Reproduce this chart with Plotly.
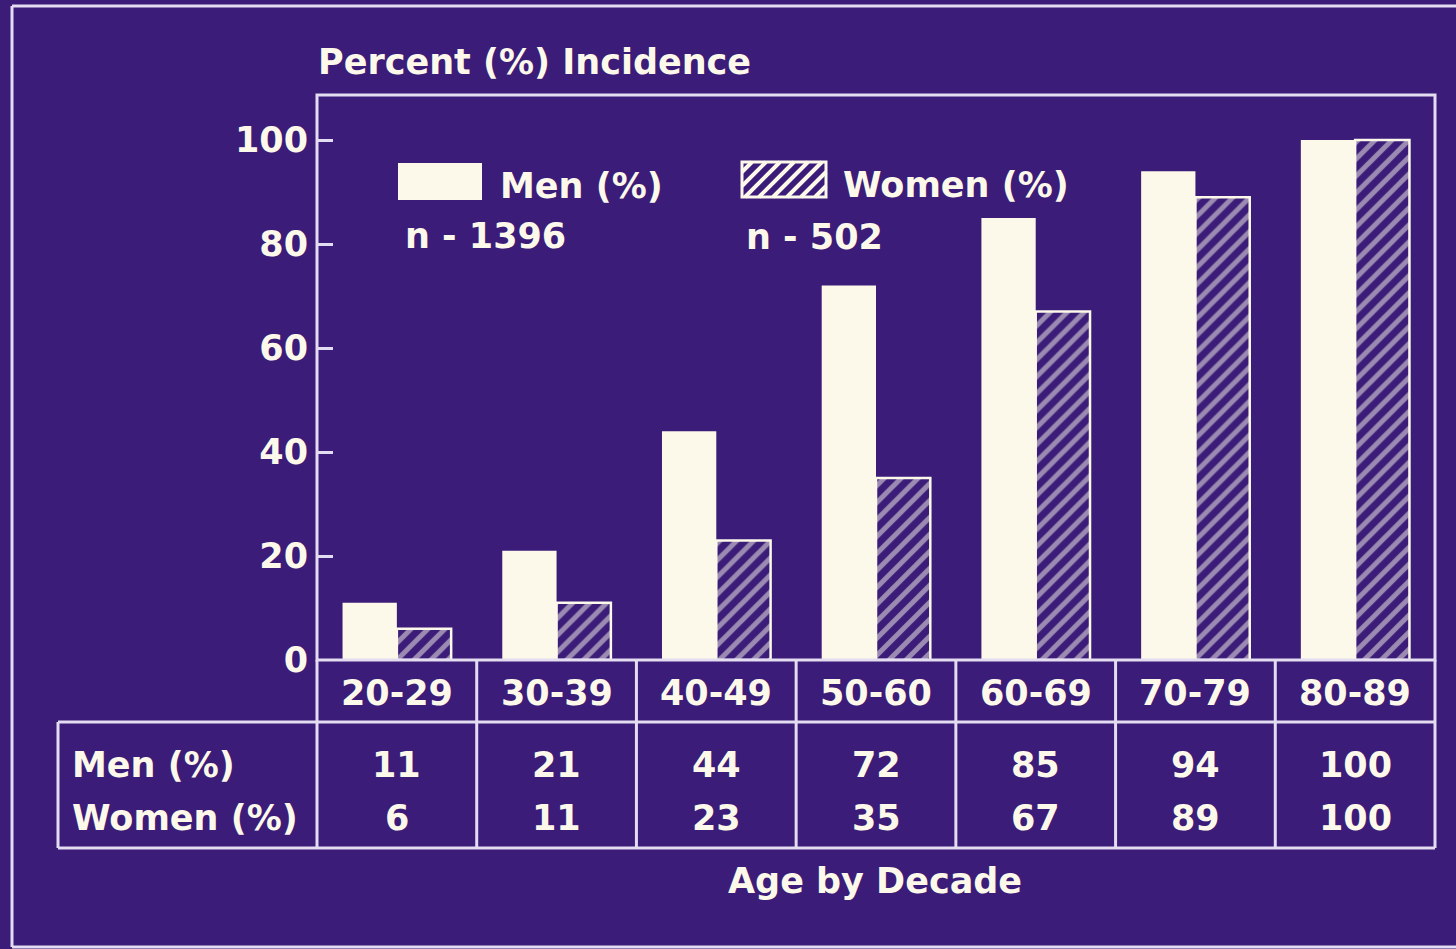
import plotly.graph_objects as go

# ---- data ----
age_groups = ["20-29", "30-39", "40-49", "50-60", "60-69", "70-79", "80-89"]
men_pct = [11, 21, 44, 72, 85, 94, 100]
women_pct = [6, 11, 23, 35, 67, 89, 100]
y_ticks = [0, 20, 40, 60, 80, 100]
men_n = 1396
women_n = 502

# ---- styling ----
BG = "#3b1c78"
INK = "#fcf8ea"
LINE = "#e4dcf0"
FONT = "DejaVu Sans"
FS = 35

W_FIG, H_FIG = 1456, 949
L, R, T, B = 317, 21, 95, 289
PW = W_FIG - L - R
PH = H_FIG - T - B
Y_TOP = PH / 5.2  # 5.2 px per percent


def px(x):
    return (x - L) / PW


def py(y):
    return (H_FIG - B - y) / PH


def font(size=FS):
    return dict(family=FONT, size=size, color=INK, weight="bold")


fig = go.Figure()
fig.add_trace(go.Bar(
    x=age_groups, y=men_pct, name="Men (%)",
    marker=dict(color=INK, line=dict(width=0)),
))
fig.add_trace(go.Bar(
    x=age_groups, y=women_pct, name="Women (%)",
    marker=dict(color=BG, line=dict(color=INK, width=2.5),
                pattern=dict(shape="/", fgcolor=INK, bgcolor=BG, size=12, solidity=0.42)),
))

shapes = []
LW = 3


def seg(x0, y0, x1, y1, w=LW):
    shapes.append(dict(type="line", xref="paper", yref="paper",
                       x0=px(x0), y0=py(y0), x1=px(x1), y1=py(y1),
                       line=dict(color=LINE, width=w)))


# outer frame
seg(12, 6, 1470, 6)
seg(12, 6, 12, 947)
seg(12, 947, 1470, 947)

# plot box
shapes.append(dict(type="rect", xref="paper", yref="paper", x0=0, y0=0, x1=1, y1=1,
                   line=dict(color=LINE, width=LW), layer="above"))

# table under the bars
n = len(age_groups)
tbl_head_bot, tbl_bot, tbl_left = 722, 848, 58
for k in range(n + 1):
    shapes.append(dict(type="line", xref="paper", yref="paper",
                       x0=k / n, x1=k / n, y0=py(H_FIG - B), y1=py(tbl_bot),
                       line=dict(color=LINE, width=LW)))
shapes.append(dict(type="line", xref="paper", yref="paper", x0=px(tbl_left), x1=1,
                   y0=py(tbl_head_bot), y1=py(tbl_head_bot), line=dict(color=LINE, width=LW)))
shapes.append(dict(type="line", xref="paper", yref="paper", x0=px(tbl_left), x1=1,
                   y0=py(tbl_bot), y1=py(tbl_bot), line=dict(color=LINE, width=LW)))
seg(tbl_left, tbl_head_bot, tbl_left, tbl_bot)

# legend keys
shapes.append(dict(type="rect", xref="paper", yref="paper",
                   x0=px(398), x1=px(482), y0=py(200), y1=py(163),
                   fillcolor=INK, line=dict(width=0)))
kx0, kx1, ky0, ky1 = 742, 826, 162, 197
shapes.append(dict(type="rect", xref="paper", yref="paper",
                   x0=px(kx0), x1=px(kx1), y0=py(ky1), y1=py(ky0),
                   fillcolor=BG, line=dict(color=INK, width=3)))
hatch = []
c = kx0 + ky0 + 10
while c < kx1 + ky1:
    ya, yb = max(ky0, c - kx1), min(ky1, c - kx0)
    if ya < yb:
        hatch.append(f"M{px(c - ya)},{py(ya)} L{px(c - yb)},{py(yb)}")
    c += 14
shapes.append(dict(type="path", xref="paper", yref="paper", path=" ".join(hatch),
                   line=dict(color=INK, width=4)))

ann = []


def text(s, x, y, xanchor="left", xref="paper", size=FS):
    ann.append(dict(text=s, x=x, y=py(y), xref=xref, yref="paper",
                    xanchor=xanchor, yanchor="middle", showarrow=False, font=font(size)))


text("Percent (%) Incidence", px(316), 62)
text("Men (%)", px(498), 186)
text("Women (%)", px(841), 185)
text(f"n - {men_n}", px(403), 236)
text(f"n - {women_n}", px(744), 237)
text("Men (%)", px(70), 765)
text("Women (%)", px(70), 818)
text("Age by Decade", px(875), 881, xanchor="center")
for g, m, w in zip(age_groups, men_pct, women_pct):
    text(g, g, 693, xanchor="center", xref="x")
    text(str(m), g, 765, xanchor="center", xref="x")
    text(str(w), g, 818, xanchor="center", xref="x")

fig.update_layout(
    width=W_FIG, height=H_FIG, autosize=False,
    margin=dict(l=L, r=R, t=T, b=B, pad=0),
    paper_bgcolor=BG, plot_bgcolor=BG,
    showlegend=False, barmode="group", bargap=0.32, bargroupgap=0,
    shapes=shapes, annotations=ann,
    xaxis=dict(range=[-0.5, n - 0.5], showticklabels=False, showgrid=False,
               zeroline=False, showline=False, ticks=""),
    yaxis=dict(range=[0, Y_TOP], tickvals=y_ticks, ticks="inside", ticklen=16,
               tickwidth=3, tickcolor=LINE, showgrid=False, zeroline=False,
               showline=False, tickfont=font(FS), ticklabelstandoff=8),
)

fig.write_html("out.html")
